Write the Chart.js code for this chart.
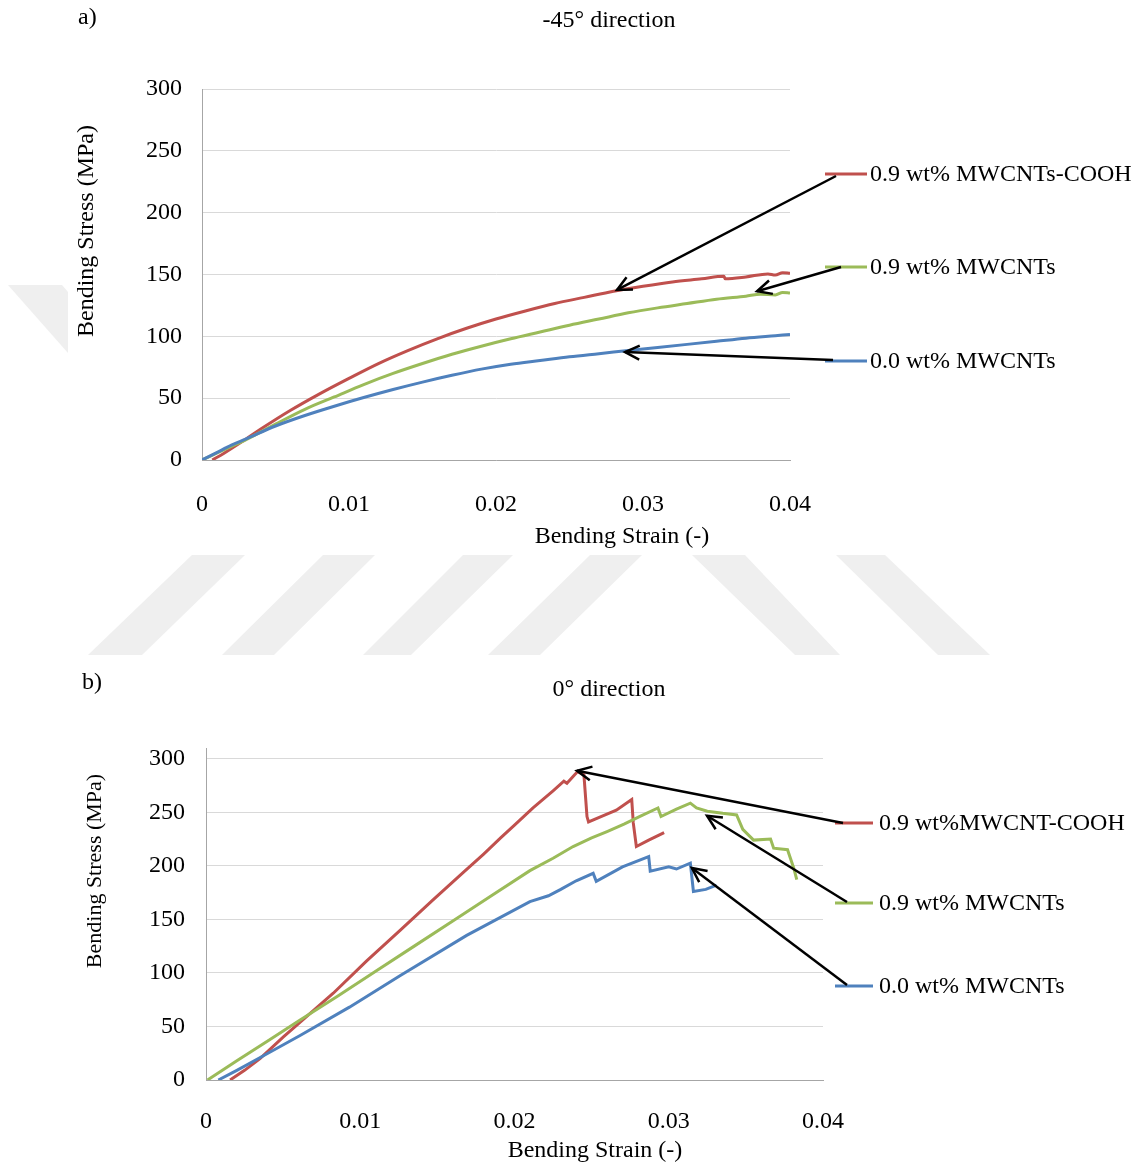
<!DOCTYPE html>
<html>
<head>
<meta charset="utf-8">
<script src="https://cdn.jsdelivr.net/npm/chart.js@4.4.1/dist/chart.umd.min.js"></script>
<style>
  html, body { margin: 0; padding: 0; background: #fff; }
  #page { position: relative; width: 1146px; height: 1168px; overflow: hidden; }
  #wm { position: absolute; left: 0; top: 0; }
  .box { position: absolute; left: 0; }
</style>
</head>
<body>
<div id="page">
  <svg id="wm" width="1146" height="1168">
    <g fill="#efefef">
      <polygon points="8,285 62,285 68,292 68,353"/>
      <polygon points="192,555 245,555 142,655 88,655"/>
      <polygon points="323,555 375,555 274,655 222,655"/>
      <polygon points="463,555 513,555 411,655 363,655"/>
      <polygon points="590,555 642,555 540,655 488,655"/>
      <polygon points="692,555 745,555 840,655 795,655"/>
      <polygon points="836,555 885,555 990,655 938,655"/>
    </g>
  </svg>
  <div class="box" style="top:0"><canvas id="chartA" width="1146" height="560"></canvas></div>
  <div class="box" style="top:660px"><canvas id="chartB" width="1146" height="508"></canvas></div>
</div>
<script>
// series labels
const labelsA = ['0.0 wt% MWCNTs', '0.9 wt% MWCNTs', '0.9 wt% MWCNTs-COOH'];
const labelsB = ['0.0 wt% MWCNTs', '0.9 wt% MWCNTs', '0.9 wt%MWCNT-COOH'];
const colors = ['#4F81BD', '#9BBB59', '#C0504D'];

// axis ticks
const strainTicks = [0, 0.01, 0.02, 0.03, 0.04];
const stressTicks = [0, 50, 100, 150, 200, 250, 300];

// a) -45° direction
const aStrain0 = [0, 0.001, 0.002, 0.003, 0.005, 0.007, 0.009, 0.011, 0.013, 0.015, 0.017, 0.019, 0.021, 0.023, 0.025, 0.027, 0.029, 0.031, 0.033, 0.035, 0.037, 0.039, 0.04];
const aStress0 = [0, 6, 12, 17, 27.5, 36, 43.5, 50.5, 57, 63, 68.5, 73.5, 77.5, 80.5, 83.5, 86, 88.5, 91, 93.5, 96, 98.5, 100.5, 101.5];
const aStrain1 = [0, 0.001, 0.002, 0.003, 0.005, 0.007, 0.009, 0.011, 0.013, 0.015, 0.017, 0.019, 0.021, 0.023, 0.025, 0.027, 0.029, 0.031, 0.033, 0.035, 0.037, 0.038, 0.039, 0.0395, 0.04];
const aStress1 = [0, 5.5, 11, 16.5, 29, 41, 51, 61, 70, 78, 85.5, 92, 98, 103.5, 109, 114, 119, 123, 126.5, 130, 132.5, 134, 133.5, 135.5, 135];
const aStrain2 = [0.0007, 0.0015, 0.003, 0.004, 0.006, 0.008, 0.010, 0.012, 0.014, 0.016, 0.018, 0.020, 0.022, 0.024, 0.026, 0.028, 0.030, 0.032, 0.034, 0.0355, 0.0356, 0.037, 0.0385, 0.039, 0.0395, 0.04];
const aStress2 = [0, 5.5, 17, 25, 40, 53.5, 66, 78, 88.5, 98, 106.5, 114, 120.5, 126.5, 131.5, 136.5, 140.5, 144, 146.5, 148.5, 146.5, 148, 150.5, 149.5, 151.5, 151];

// b) 0° direction
const bStrain0 = [0.0008, 0.002, 0.0039, 0.0061, 0.0093, 0.0126, 0.0169, 0.021, 0.0222, 0.023, 0.024, 0.0251, 0.0253, 0.027, 0.0287, 0.0288, 0.030, 0.0305, 0.0314, 0.0316, 0.0324, 0.0331];
const bStress0 = [0, 9, 24, 41.5, 68, 97.5, 135, 166.5, 172, 178, 186, 193, 185.5, 199, 208.5, 195, 199, 197, 202.5, 176, 178, 182];
const bStrain1 = [0.0001, 0.002, 0.004, 0.006, 0.0085, 0.011, 0.0135, 0.016, 0.0185, 0.021, 0.0225, 0.0238, 0.025, 0.026, 0.0271, 0.0281, 0.0293, 0.0295, 0.0305, 0.0314, 0.0318, 0.0325, 0.0335, 0.0344, 0.0348, 0.0355, 0.0366, 0.0368, 0.0377, 0.0381, 0.0383];
const bStress1 = [0, 18, 36.5, 55, 78, 101.5, 125, 148.5, 172, 195.5, 207, 218, 226, 232, 239, 246, 254, 246, 253, 258.5, 254, 251, 249, 247.5, 234, 224, 225, 216.5, 215, 198, 187];
const bStrain2 = [0.00156, 0.0025, 0.0035, 0.005, 0.00825, 0.0104, 0.0126, 0.0147, 0.0167, 0.018, 0.0191, 0.0200, 0.0212, 0.0225, 0.0232, 0.0234, 0.0239, 0.0241, 0.0245, 0.0247, 0.0248, 0.0258, 0.0266, 0.0276, 0.0277, 0.0279, 0.0287, 0.0297];
const bStress2 = [0, 9, 20, 40, 81, 111, 140, 168, 194, 211, 226, 238, 254, 270, 279, 277, 285, 288, 285, 246, 241, 247, 252, 262, 240, 218, 224, 231];

// where the arrows point (strain, stress)
const arrowTipsA = [[0.02878, 87.3], [0.03776, 136.5], [0.02823, 137.5]];
const arrowTipsB = [[0.0315, 198], [0.03248, 246.7], [0.02405, 288.8]];

const serif = '"Liberation Serif", "Times New Roman", serif';

function series(strain, stress) {
    return strain.map((x, i) => ({ x: x, y: stress[i] }));
}

function makeDatasets(labels, sets, smooth) {
    return sets.map((s, i) => ({
        label: labels[i],
        data: series(s[0], s[1]),
        borderColor: colors[i],
        backgroundColor: colors[i],
        borderWidth: 3,
        pointRadius: 0,
        cubicInterpolationMode: smooth ? 'monotone' : 'default',
        tension: 0
    }));
}

// free text: panel letter, title, axis titles
const figureText = {
    id: 'figureText',
    afterDraw(chart, args, opts) {
        const ctx = chart.ctx;
        ctx.save();
        ctx.fillStyle = '#000';
        ctx.textBaseline = 'middle';
        opts.items.forEach(t => {
            ctx.font = (t.size || 24) + 'px ' + serif;
            ctx.textAlign = t.align || 'center';
            if (t.rotate) {
                ctx.save();
                ctx.translate(t.x, t.y);
                ctx.rotate(-Math.PI / 2);
                ctx.fillText(t.text, 0, 0);
                ctx.restore();
            } else {
                ctx.fillText(t.text, t.x, t.y);
            }
        });
        ctx.restore();
    }
};

// legend keys at the right with black arrows to the curves
const arrowLegend = {
    id: 'arrowLegend',
    afterDatasetsDraw(chart, args, opts) {
        const { ctx, scales } = chart;
        ctx.save();
        opts.items.forEach(it => {
            const ds = chart.data.datasets[it.dataset];
            ctx.strokeStyle = ds.borderColor;
            ctx.lineWidth = 3;
            ctx.beginPath();
            ctx.moveTo(opts.keyX, it.rowY);
            ctx.lineTo(opts.keyX + opts.keyLen, it.rowY);
            ctx.stroke();

            ctx.fillStyle = '#000';
            ctx.font = '24px ' + serif;
            ctx.textAlign = 'left';
            ctx.textBaseline = 'middle';
            ctx.fillText(ds.label, opts.textX, it.rowY + 1);

            const tip = opts.tips[it.dataset];
            const tx = scales.x.getPixelForValue(tip[0]);
            const ty = scales.y.getPixelForValue(tip[1]);
            ctx.strokeStyle = '#000';
            ctx.lineWidth = 2.5;
            ctx.beginPath();
            ctx.moveTo(it.fromX, it.fromY);
            ctx.lineTo(tx, ty);
            ctx.stroke();
            const ang = Math.atan2(it.fromY - ty, it.fromX - tx);
            ctx.beginPath();
            ctx.moveTo(tx + 16 * Math.cos(ang + 0.45), ty + 16 * Math.sin(ang + 0.45));
            ctx.lineTo(tx, ty);
            ctx.lineTo(tx + 16 * Math.cos(ang - 0.45), ty + 16 * Math.sin(ang - 0.45));
            ctx.stroke();
        });
        ctx.restore();
    }
};

function makeScales(yMax, yWidth, xHeight, yPad, xPad) {
    const tickFont = { family: serif, size: 24 };
    return {
        x: {
            type: 'linear',
            min: 0,
            max: 0.04,
            grid: { display: false },
            border: { color: '#a6a6a6', width: 1 },
            ticks: {
                padding: xPad,
                color: '#000',
                font: tickFont,
                maxRotation: 0,
                autoSkip: false,
                callback: v => v === 0 ? '0' : v.toFixed(2)
            },
            afterBuildTicks: s => { s.ticks = strainTicks.map(v => ({ value: v })); },
            afterFit: s => { s.height = xHeight; }
        },
        y: {
            min: 0,
            max: yMax,
            grid: { color: '#d9d9d9', drawTicks: false, lineWidth: 1 },
            border: { color: '#a6a6a6', width: 1 },
            ticks: { padding: yPad, color: '#000', font: tickFont, autoSkip: false },
            afterBuildTicks: s => { s.ticks = stressTicks.map(v => ({ value: v })); },
            afterFit: s => { s.width = yWidth; }
        }
    };
}

Chart.defaults.animation = false;

new Chart(document.getElementById('chartA'), {
    type: 'line',
    data: {
        datasets: makeDatasets(labelsA, [[aStrain0, aStress0], [aStrain1, aStress1], [aStrain2, aStress2]], true)
    },
    options: {
        responsive: false,
        layout: { padding: { left: 0, right: 356, top: 89, bottom: 0 } },
        scales: makeScales(300, 202, 100, 20, 22),
        plugins: {
            legend: { display: false },
            tooltip: { enabled: false },
            figureText: {
                items: [
                    { text: 'a)', x: 78, y: 18, align: 'left' },
                    { text: '-45° direction', x: 609, y: 21 },
                    { text: 'Bending Strain (-)', x: 622, y: 537 },
                    { text: 'Bending Stress (MPa)', x: 87, y: 231, rotate: true }
                ]
            },
            arrowLegend: {
                keyX: 825, keyLen: 42, textX: 870,
                tips: arrowTipsA,
                items: [
                    { dataset: 2, rowY: 174, fromX: 836, fromY: 176 },
                    { dataset: 1, rowY: 267, fromX: 841, fromY: 267 },
                    { dataset: 0, rowY: 361, fromX: 833, fromY: 360 }
                ]
            }
        }
    },
    plugins: [figureText, arrowLegend]
});

new Chart(document.getElementById('chartB'), {
    type: 'line',
    data: {
        datasets: makeDatasets(labelsB, [[bStrain0, bStress0], [bStrain1, bStress1], [bStrain2, bStress2]], false)
    },
    options: {
        responsive: false,
        layout: { padding: { left: 0, right: 323, top: 88, bottom: 0 } },
        scales: makeScales(310, 206, 88, 21, 19),
        plugins: {
            legend: { display: false },
            tooltip: { enabled: false },
            figureText: {
                items: [
                    { text: 'b)', x: 82, y: 23, align: 'left' },
                    { text: '0° direction', x: 609, y: 30 },
                    { text: 'Bending Strain (-)', x: 595, y: 491 },
                    { text: 'Bending Stress (MPa)', x: 95, y: 211, rotate: true, size: 22 }
                ]
            },
            arrowLegend: {
                keyX: 835, keyLen: 38, textX: 879,
                tips: arrowTipsB,
                items: [
                    { dataset: 2, rowY: 163, fromX: 843, fromY: 163 },
                    { dataset: 1, rowY: 243, fromX: 847, fromY: 242 },
                    { dataset: 0, rowY: 326, fromX: 847, fromY: 325 }
                ]
            }
        }
    },
    plugins: [figureText, arrowLegend]
});
</script>
</body>
</html>
